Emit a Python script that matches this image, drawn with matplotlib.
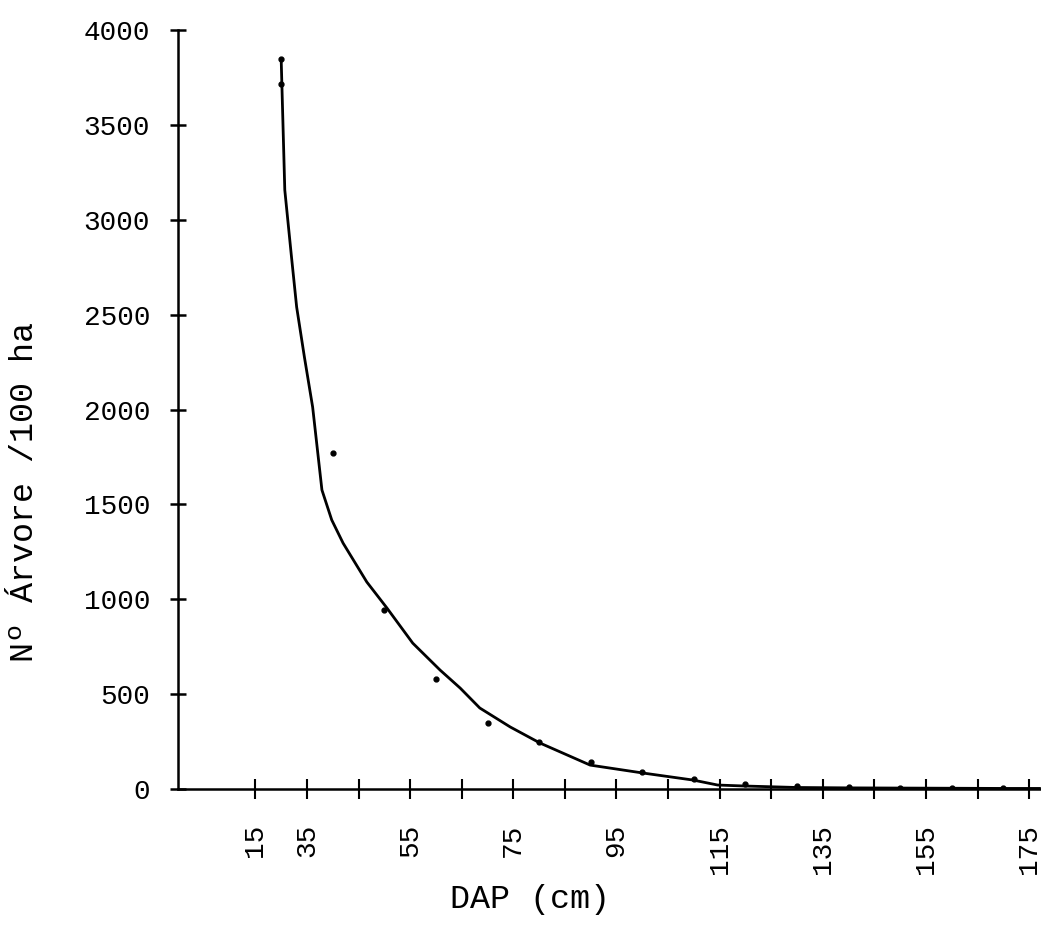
import matplotlib.pyplot as plt
from matplotlib.ticker import FixedLocator

# fitted curve (DAP cm, trees / 100 ha)
curve_dap = [30.0, 30.7, 32.0, 33.0, 34.5, 36.1, 37.9, 39.8, 42.0, 46.6, 50.5, 55.5,
             60.8, 64.7, 68.5, 74.4, 80.2, 89.9, 100.2, 109.9, 114.6, 119.6,
             130, 140, 150, 160, 170, 177]
curve_n = [3847, 3157, 2804, 2540, 2277, 2013, 1576, 1418, 1296, 1091, 954, 769,
           627, 532, 427, 327, 242, 126, 84, 47, 21, 16,
           8, 6, 5, 4, 3, 3]

# observed points
obs_dap = [30, 30, 40, 50, 60, 70, 80, 90, 100, 110, 120, 130, 140, 150, 160, 170]
obs_n = [3847, 3715, 1771, 943, 580, 348, 248, 142, 90, 53, 26, 14, 10, 7, 5, 3]

# axis ticks
x_major = [25, 35, 55, 75, 95, 115, 135, 155, 175]
x_labels = ['15', '35', '55', '75', '95', '115', '135', '155', '175']
x_minor = [45, 65, 85, 105, 125, 145, 165]
y_ticks = [0, 500, 1000, 1500, 2000, 2500, 3000, 3500, 4000]

FONT = 'Liberation Mono'

fig = plt.figure(figsize=(10.41, 9.30), dpi=100)
ax = fig.add_axes([0.171, 0.1516, 0.829, 0.8161])

ax.plot(curve_dap, curve_n, color='black', lw=2.0, solid_joinstyle='round')
ax.plot(obs_dap, obs_n, 'o', color='black', ms=3.5)

ax.set_xlim(10, 177.3)
ax.set_ylim(0, 4000)

for s in ['top', 'right']:
    ax.spines[s].set_visible(False)
for s in ['left', 'bottom']:
    ax.spines[s].set_linewidth(1.8)

ax.xaxis.set_major_locator(FixedLocator(x_major))
ax.xaxis.set_minor_locator(FixedLocator(x_minor))
ax.set_xticklabels(x_labels, rotation=90, fontfamily=FONT, fontsize=20)
ax.set_yticks(y_ticks)
ax.set_yticklabels([str(v) for v in y_ticks], fontfamily=FONT, fontsize=20)

ax.tick_params(axis='x', which='both', direction='inout', length=14, width=1.5, pad=18)
ax.tick_params(axis='y', direction='inout', length=12, width=1.8, pad=14)

ax.set_xlabel('DAP (cm)', fontfamily=FONT, fontsize=24)
ax.xaxis.set_label_coords(0.408, -0.125)
fig.text(25 / 1041, 1 - 492 / 930, 'Nº Árvore /100 ha', rotation=90,
         ha='center', va='center', fontfamily=FONT, fontsize=24)

fig.savefig('out.png', dpi=100)
